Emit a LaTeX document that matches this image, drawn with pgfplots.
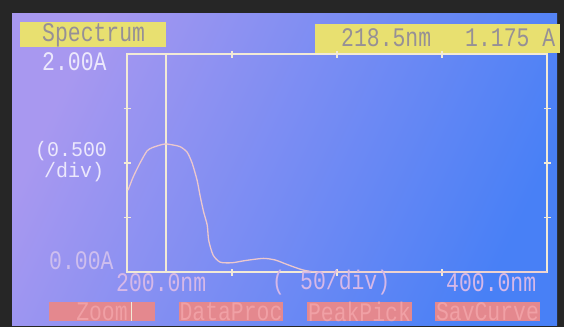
\documentclass[border=0pt]{standalone}
\usepackage{pgfplots}
\pgfplotsset{compat=1.18}
\usepackage{fontspec}
\newfontfamily\scr{Liberation Mono}
\definecolor{bgA}{RGB}{168,152,240}
\definecolor{bgB}{RGB}{112,124,240}
\definecolor{bgC}{RGB}{72,128,246}
\definecolor{ylw}{RGB}{232,224,112}
\definecolor{ytxt}{RGB}{150,144,150}
\definecolor{lincol}{RGB}{242,234,214}
\definecolor{curvecol}{RGB}{236,200,205}
\definecolor{btn}{RGB}{228,136,142}
\definecolor{btntxt}{RGB}{240,160,165}
\definecolor{wtxt}{RGB}{236,232,252}
\definecolor{ltxt}{RGB}{206,190,238}
\definecolor{ptxt}{RGB}{214,184,232}
\newcommand{\st}[1]{\scalebox{1}[1.25]{#1}}
\begin{document}
\begin{tikzpicture}
\begin{scope}[x=1bp,y=-1bp,yshift=327bp]
\fill[black!85] (0,0) rectangle (564,327);
\shade[top color=bgA, middle color=bgB, bottom color=bgC, shading angle=65] (12,13) rectangle (557,325);
\fill[ylw] (20,22) rectangle (166,47);
\fill[ylw] (315,24) rectangle (560,53);
\foreach \a/\b in {49/155,179/283,307/412,435/540}{\fill[btn] (\a,302) rectangle (\b,321);}
\draw[lincol, line width=1pt] (131,302) -- (131,321);
\end{scope}
\begin{axis}[at={(127bp,55bp)}, anchor=south west, scale only axis,
  width=420bp, height=218bp, xmin=200, xmax=400, ymin=0, ymax=2,
  xtick={250,300,350}, ytick={0.5,1,1.5},
  xticklabels={}, yticklabels={},
  tick align=center, major tick length=7bp,
  axis line style={lincol, line width=1.5pt},
  every tick/.style={lincol, line width=1.2pt},
  clip=false]
\addplot[lincol, line width=1.5pt] coordinates {(218.5,0) (218.5,2)};
\addplot[curvecol, line width=1.3pt, smooth, tension=0.4] coordinates {
(200.5,0.75) (202.9,0.87) (206.2,1.00) (209.5,1.11) (211.9,1.14) (215.8,1.165)
(218.5,1.175) (222,1.165) (225.3,1.15) (228.6,1.10) (231,1.00) (233.4,0.84)
(234.8,0.70) (236.5,0.55) (238.2,0.43) (238.9,0.29) (241,0.155) (244.4,0.09)
(250.1,0.085) (256.3,0.105) (264.9,0.125) (270.6,0.11) (276.8,0.065)
(283.5,0.02) (289.7,0.0) (300,0.0) (400,0.0)};
\end{axis}
\begin{scope}[x=1bp,y=-1bp,yshift=327bp, every node/.style={inner sep=0pt, font=\scr\fontsize{21.5}{22}\selectfont}]
\node[anchor=west, text=ytxt] at (42,35) {\st{Spectrum}};
\node[anchor=west, text=ytxt] at (341,38) {\st{218.5nm}};
\node[anchor=west, text=ytxt] at (465,38) {\st{1.175 A}};
\node[anchor=west, text=wtxt] at (42,62) {\st{2.00A}};
\node[anchor=west, text=wtxt, font=\scr\fontsize{20}{22}\selectfont] at (35,151) {\scalebox{1}[1.05]{(0.500}};
\node[anchor=west, text=wtxt, font=\scr\fontsize{20}{22}\selectfont] at (44,172) {\scalebox{1}[1.05]{/div)}};
\node[anchor=west, text=ltxt] at (49,261) {\st{0.00A}};
\node[anchor=west, text=ptxt] at (116,283) {\st{200.0nm}};
\node[anchor=west, text=ptxt] at (272,283) {\st{(}};
\node[anchor=west, text=ptxt] at (300,283) {\st{50/div)}};
\node[anchor=west, text=ptxt] at (446,283) {\st{400.0nm}};
\node[text=btntxt] at (102,311.5) {\st{Zoom}};
\node[text=btntxt] at (231,311.5) {\st{DataProc}};
\node[text=btntxt] at (359.5,311.5) {\st{PeakPick}};
\node[text=btntxt] at (487.5,311.5) {\st{SavCurve}};
\end{scope}
\end{tikzpicture}
\end{document}
